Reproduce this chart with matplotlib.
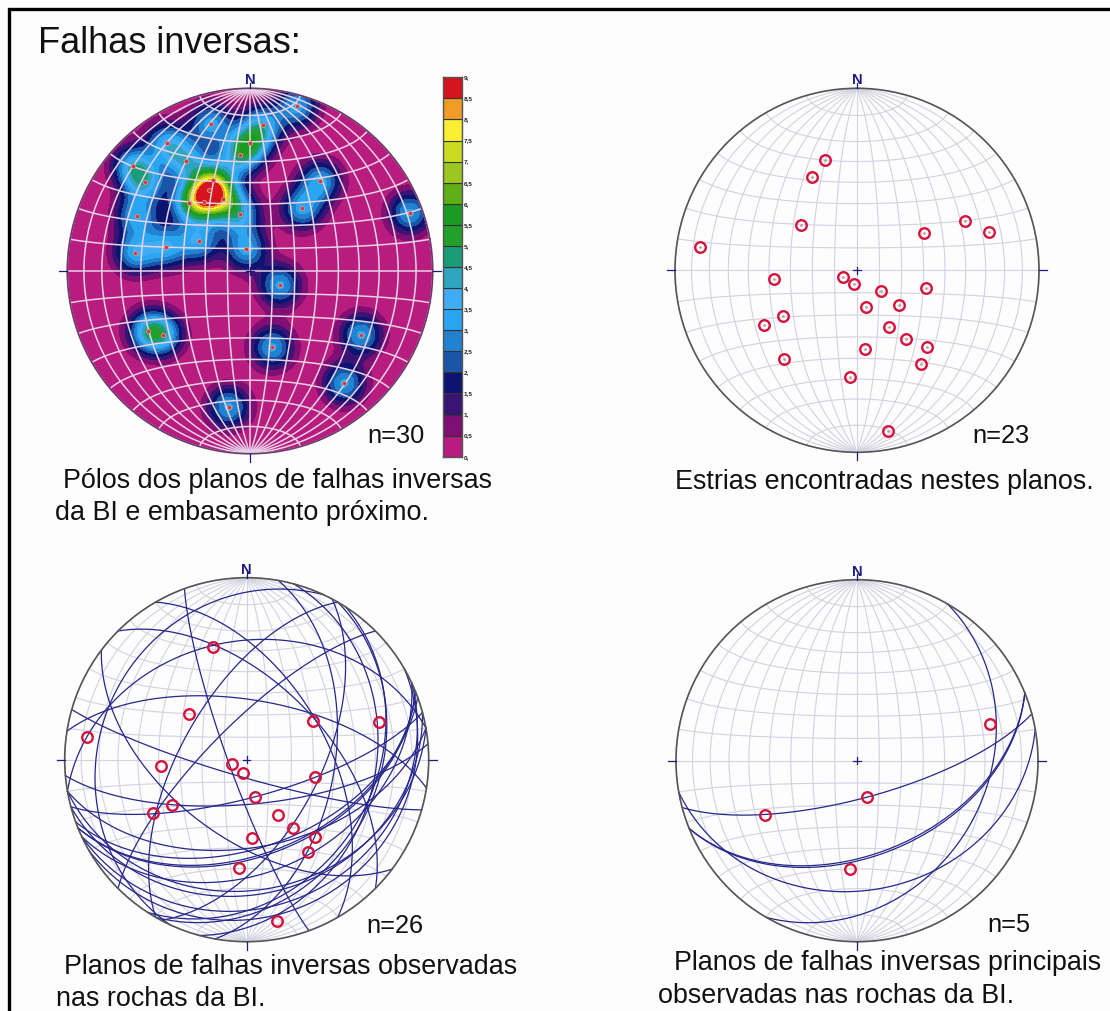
import numpy as np
import matplotlib
matplotlib.use('Agg')
import matplotlib.pyplot as plt
from matplotlib.patches import Circle

plt.rcParams['font.family'] = ['Liberation Sans', 'DejaVu Sans']

W, H = 1110, 1011

# polos dos planos (unidades da rede, raio = 1)
polos_x = [.259, .069, -.215, .002, -.057, -.456, -.350, -.641, -.575, -.201,
           -.223, -.146, -.252, -.334, -.057, -.620, -.281, -.462, -.630, -.020,
           .385, .286, .874, .164, -.558, -.478, .122, .609, .516, -.117]
polos_y = [.901, .797, .807, .701, .633, .701, .604, .575, .485, .498,
           .443, .394, .378, .372, .310, .301, .162, .131, .099, .119,
           .491, .343, .319, -.078, -.327, -.349, -.418, -.349, -.615, -.745]

# estrias
estrias_x = [-.176, -.245, -.308, -.863, -.454, -.079, -.016, .132, .051, .229, .379, .370,
             .593, .727, -.405, -.509, .178, .267, .385, .352, .044, -.401, -.037, .170]
estrias_y = [.606, .515, .251, .126, -.048, -.035, -.077, -.114, -.203, -.190, -.095, .207,
             .273, .209, -.253, -.300, -.310, -.375, -.419, -.513, -.430, -.485, -.586, -.883]

# estrias sobre os planos da BI
bi_x = [-.183, -.319, -.877, -.472, -.083, -.022, .046, .376, .367, .727,
        -.411, -.517, .174, .257, .374, .336, .031, -.044, .167]
bi_y = [.618, .250, .127, -.037, -.026, -.072, -.204, -.097, .213, .206,
        -.251, -.295, -.306, -.374, -.424, -.506, -.429, -.593, -.888]

# planos: direcao de mergulho, mergulho
bi_dd = [250, 60, 118, 100, 123, 196, 9, 217, 158, 158, 170, 165, 120,
         170, 155, 165, 150, 295, 45, 105, 350, 300, 315, 175, 160, 155]
bi_dip = [82, 54, 57, 50, 31, 82, 63, 55, 46, 47, 29, 73, 29,
          50, 38, 27, 15, 20, 55, 30, 35, 61, 74, 70, 50, 20]

princ_x = [.735, .053, -.508, -.039]
princ_y = [.203, -.199, -.302, -.600]
princ_dd = [165, 158, 158, 170, 120]
princ_dip = [73, 46, 47, 29, 29]

# escala de densidade
niveis = [0, .5, 1, 1.5, 2, 2.5, 3, 3.5, 4, 4.5, 5, 5.5, 6, 6.5, 7, 7.5, 8, 8.5, 9]
niveis_txt = ['0,', '0,5', '1,', '1,5', '2,', '2,5', '3,', '3,5', '4,', '4,5', '5,', '5,5',
              '6,', '6,5', '7,', '7,5', '8,', '8,5', '9,']
cores = ['#B81C7E', '#7F0F72', '#3A1475', '#0B1470', '#1B55A8', '#2282D2', '#2AA5F0', '#40ACF5',
         '#2FA5BF', '#1A9C78', '#23A02A', '#1A9C22', '#5FAF18', '#9CC71E', '#C9DC20', '#FAEF33',
         '#F29C28', '#D5141E']

AZUL = '#1C1C80'
VERMELHO = '#D5123C'


def proj(x, y, z):
    f = np.sqrt(1 / (1 + z))
    return x * f, y * f


def rede(cx, cy, R):
    pad = 1.12
    ax = fig.add_axes([(cx - R * pad) / W, 1 - (cy + R * pad) / H, 2 * R * pad / W, 2 * R * pad / H])
    ax.set_xlim(-pad, pad)
    ax.set_ylim(-pad, pad)
    ax.axis('off')
    ax.patch.set_alpha(0)
    return ax


def grade(ax, cor_grade, lw_grade, cor_borda='#555555'):
    t = np.radians(np.linspace(-90, 90, 181))
    for lon in range(-90, 91, 10):
        l = np.radians(lon)
        x, y = proj(np.cos(t) * np.sin(l), np.sin(t), np.cos(t) * np.cos(l))
        ax.plot(x, y, color=cor_grade, lw=lw_grade, zorder=3)
    for lat in [10, 20, 30, 40, 50, 60, 74]:
        for s in [1, -1]:
            p = np.radians(lat * s)
            x, y = proj(np.cos(p) * np.sin(t), np.sin(p) * np.ones_like(t), np.cos(p) * np.cos(t))
            ax.plot(x, y, color=cor_grade, lw=lw_grade, zorder=3)
    ax.plot([-1, 1], [0, 0], color=cor_grade, lw=lw_grade, zorder=3)
    ax.add_patch(Circle((0, 0), 1, fill=False, ec=cor_borda, lw=1.2, zorder=6))
    # marcas N S E W e cruz central
    for a, b in [((-1.045, -1), (0, 0)), ((1, 1.045), (0, 0)), ((0, 0), (1, 1.03)), ((0, 0), (-1.045, -1)),
                 ((-.02, .02), (0, 0)), ((0, 0), (-.02, .02))]:
        ax.plot(a, b, color=AZUL, lw=0.9, zorder=7)
    ax.text(0, 1.045, 'N', color=AZUL, fontsize=10.5, fontweight='bold', ha='center', va='center', zorder=7)


def planos(ax, dd, dip, lw=0.9):
    t = np.linspace(0, np.pi, 200)
    for d, m in zip(dd, dip):
        a = np.radians(d)
        b = np.radians(m)
        st = a - np.pi / 2
        x = np.sin(st) * np.cos(t) + np.sin(a) * np.cos(b) * np.sin(t)
        y = np.cos(st) * np.cos(t) + np.cos(a) * np.cos(b) * np.sin(t)
        z = np.sin(b) * np.sin(t)
        px, py = proj(x, y, z)
        ax.plot(px, py, color='#26268C', lw=lw, zorder=4)


def circulos(ax, x, y):
    ax.plot(x, y, 'o', ms=7.6, mfc='none', mec=VERMELHO, mew=1.7, zorder=8)


fig = plt.figure(figsize=(W / 100, H / 100), dpi=100, facecolor='#FDFDFD')

# fundo: moldura e textos em pixels
bg = fig.add_axes([0, 0, 1, 1])
bg.set_xlim(0, W)
bg.set_ylim(H, 0)
bg.axis('off')
bg.plot([9, 9, W], [H, 9, 9], color='black', lw=2.4, solid_joinstyle='miter')
bg.text(38, 53, 'Falhas inversas:', fontsize=26, color='#111111')

legendas = [(63, 488, 'Pólos dos planos de falhas inversas'), (55, 520, 'da BI e embasamento próximo.'),
            (675, 489, 'Estrias encontradas nestes planos.'),
            (64, 974, 'Planos de falhas inversas observadas'), (56, 1006, 'nas rochas da BI.'),
            (674, 970, 'Planos de falhas inversas principais'), (658, 1003, 'observadas nas rochas da BI.')]
for x, y, s in legendas:
    bg.text(x, y, s, fontsize=19.4, color='#111111')
for x, y, s in [(367, 443, 'n=30'), (972, 443, 'n=23'), (366, 933, 'n=26'), (987, 932, 'n=5')]:
    bg.text(x, y, s, fontsize=18.3, color='#111111')

# rede 1: densidade
ax1 = rede(250, 271, 182.7)
gx, gy = np.meshgrid(np.linspace(-1.01, 1.01, 500), np.linspace(-1.01, 1.01, 500))
dens = np.zeros_like(gx)
for a, b in zip(polos_x, polos_y):
    dens += 3.1 * np.exp(-((gx - a) ** 2 + (gy - b) ** 2) / (2 * .08 ** 2))
cs = ax1.contourf(gx, gy, np.clip(dens, 0, 8.99), levels=niveis, colors=cores, zorder=1)
cs.set_clip_path(Circle((0, 0), 1, transform=ax1.transData))
grade(ax1, '#E6D3E6', 1.1, '#6A3A6A')
ax1.plot(polos_x, polos_y, 'o', ms=3, mfc='#E03030', mec='#C9A0A0', mew=0.6, zorder=8)

# barra de cores
cb = fig.add_axes([442.7 / W, 1 - 456.7 / H, 19 / W, 379.4 / H])
cb.bar(0, [.5] * 18, bottom=niveis[:-1], width=1, color=cores, edgecolor='#333333', lw=0.8, align='edge')
cb.set_xlim(0, 1)
cb.set_ylim(0, 9)
cb.set_xticks([])
cb.yaxis.tick_right()
cb.set_yticks(niveis, niveis_txt, fontsize=4.6, fontweight='bold', color='#222222')
cb.tick_params(axis='y', length=0, pad=1.5)
for s in cb.spines.values():
    s.set_color('#555555')
    s.set_linewidth(1)

# rede 2: estrias
ax2 = rede(857, 270.3, 182)
grade(ax2, '#D2D2E0', 0.8)
circulos(ax2, estrias_x, estrias_y)
ax2.plot(estrias_x, estrias_y, 'o', ms=1.8, mfc='#B89090', mec='none', zorder=9)

# rede 3: planos
ax3 = rede(246.7, 759.7, 182)
grade(ax3, '#D2D2E0', 0.8)
planos(ax3, bi_dd, bi_dip)
circulos(ax3, bi_x, bi_y)

# rede 4: planos principais
ax4 = rede(857, 760.7, 181)
grade(ax4, '#D2D2E0', 0.8)
planos(ax4, princ_dd, princ_dip)
circulos(ax4, princ_x, princ_y)

fig.savefig('out.png', dpi=100, facecolor=fig.get_facecolor())
